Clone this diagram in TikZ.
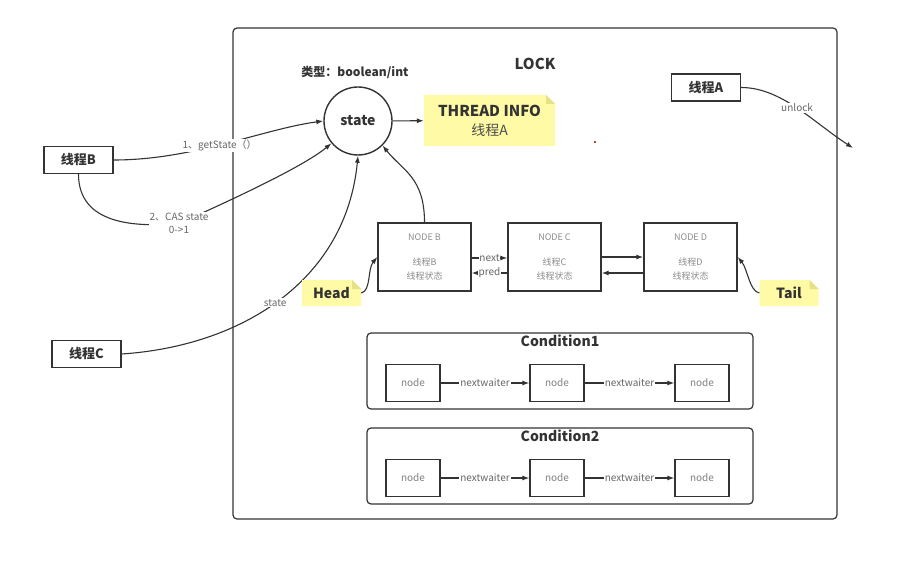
\documentclass[tikz,border=0pt]{standalone}
\usepackage{fontspec}
\setmainfont{Noto Sans CJK SC}
\usepackage{tikz}
\usetikzlibrary{arrows.meta}

\definecolor{notey}{RGB}{255,250,165}
\definecolor{notefold}{RGB}{230,224,135}
\definecolor{linec}{RGB}{51,51,51}

\begin{document}
\begin{tikzpicture}[x=1pt, y=-1pt]
        \tikzstyle{every node} = [font=\fontsize{10}{12}\selectfont, text=linec]
        \tikzstyle{conn}   = [draw=linec, line width=1.1pt, -{Latex[length=7pt, width=5pt]}]
        \tikzstyle{thread} = [draw=linec, line width=1.3pt, inner sep=0pt, minimum width=69pt, minimum height=27pt, font=\fontsize{13}{15}\selectfont\bfseries]
        \tikzstyle{qnode}  = [draw=linec, line width=1.3pt, inner sep=0pt, minimum width=93pt, minimum height=68pt, align=center, text=black!45, font=\fontsize{9}{13.5}\selectfont]
        \tikzstyle{wnode}  = [draw=linec, line width=1.3pt, inner sep=0pt, minimum width=54pt, minimum height=37pt, text=black!50]
        \tikzstyle{frame}  = [draw=linec, line width=1.2pt, rounded corners=4pt, inner sep=0pt]
        \tikzstyle{lbl}    = [fill=white, inner sep=1pt, text=black!60]

        \def\fold{9}
        \tikzstyle{note} = [inner sep=0pt, align=center, path picture={
            \fill[notey] (path picture bounding box.south west) -- (path picture bounding box.north west)
                -- ([xshift=-\fold pt]path picture bounding box.north east)
                -- ([yshift=-\fold pt]path picture bounding box.north east)
                -- (path picture bounding box.south east) -- cycle;
            \fill[notefold] ([xshift=-\fold pt]path picture bounding box.north east)
                -- ([xshift=-\fold pt, yshift=-\fold pt]path picture bounding box.north east)
                -- ([yshift=-\fold pt]path picture bounding box.north east) -- cycle;
        }]

        \useasboundingbox (0,0) rectangle (901,561);

        % the lock
        \node[frame, minimum width=604pt, minimum height=491pt] (lock) at (535,273.5) {};
        \node[font=\fontsize{15}{18}\selectfont\bfseries] (locktitle) at (535,64) {LOCK};
        \node[font=\fontsize{12}{14}\selectfont\bfseries] (stype) at (355,72) {类型：boolean/int};
        \node[circle, draw=linec, line width=1.4pt, minimum size=68pt, inner sep=0pt, font=\fontsize{14}{16}\selectfont\bfseries] (state) at (358,121) {state};
        \node[note, minimum width=131pt, minimum height=51pt, font=\fontsize{14}{19}\selectfont] (info) at (489.5,120.5)
            {{\fontsize{15}{19}\selectfont\bfseries THREAD INFO}\\{\color{black!70}线程A}};
        \draw[conn] (state) -- (info);
        \fill[red!60!black] (595,142) circle (1.2pt);

        % threads
        \node[thread] (thA) at (706,87.5) {线程A};
        \node[thread] (thB) at (78.5,160) {线程B};
        \node[thread] (thC) at (86.5,354) {线程C};

        \coordinate (away) at (853,148);
        \draw[conn] (thA.east) .. controls +(40,0) and +(-40,-26) .. (away) node[lbl, pos=0.5] (unl) {unlock};

        \draw[conn] (thB.east) .. controls +(80,0) and +(-60,8) .. (state.west) node[lbl, pos=0.47] (getst) {1、getState（）};
        \coordinate (casmid) at (179,223.5);
        \draw[conn] (thB.south) .. controls +(0,50) and +(-45,4) .. (casmid)
            node[lbl, align=center, font=\fontsize{10}{13}\selectfont] (cas) {2、CAS state\\0->1}
            .. controls +(40,-18) and +(-30,25) .. (state.220);
        \draw[conn] (thC.east) .. controls +(120,-8) and +(-12,125) .. (state.south) node[lbl, pos=0.48] (stl) {state};

        % sync queue
        \foreach \n/\x in {B/424.5, C/554.5, D/690.5}
            \node[qnode] (n\n) at (\x,257) {NODE \n\\[11.5pt]线程\n\\线程状态};

        \draw[conn] (nB.north) .. controls +(0,-45) and +(20,25) .. (state.-45);
        \draw[conn] ([yshift=-1pt]nB.east) -- node[lbl, inner sep=0.5pt] (nxt) {next} ([yshift=-1pt]nC.west);
        \draw[conn] ([yshift=-16pt]nC.west) -- node[lbl, inner sep=0.5pt] (prd) {pred} ([yshift=-16pt]nB.east);
        \draw[conn, line width=1.6pt] (nC.east) -- (nD.west);
        \draw[conn, line width=1.6pt] ([yshift=-16pt]nD.west) -- ([yshift=-16pt]nC.east);

        \node[note, minimum width=59pt, minimum height=26pt, font=\fontsize{14}{16}\selectfont\bfseries] (head) at (331.5,293) {Head};
        \node[note, minimum width=59pt, minimum height=26pt, font=\fontsize{14}{16}\selectfont\bfseries] (tail) at (789,293) {Tail};
        \draw[conn] (head.east) .. controls +(10,-2) and +(-10,12) .. (nB.west);
        \draw[conn] (tail.west) .. controls +(-10,-2) and +(10,12) .. (nD.east);

        % condition queues
        \foreach \k/\cy in {1/371, 2/466} {
            \node[frame, minimum width=386pt, minimum height=76pt] (cond\k) at (560,\cy) {};
            \node[font=\fontsize{14}{16}\selectfont\bfseries] (ct\k) at (560,\cy-30.5) {Condition\k};
            \foreach[count=\c] \x in {413, 557, 702}
                \node[wnode] (w\k\c) at (\x,\cy+12) {node};
            \draw[conn] (w\k1) -- node[lbl] {nextwaiter} (w\k2);
            \draw[conn] (w\k2) -- node[lbl] {nextwaiter} (w\k3);
        }
\end{tikzpicture}
\end{document}
